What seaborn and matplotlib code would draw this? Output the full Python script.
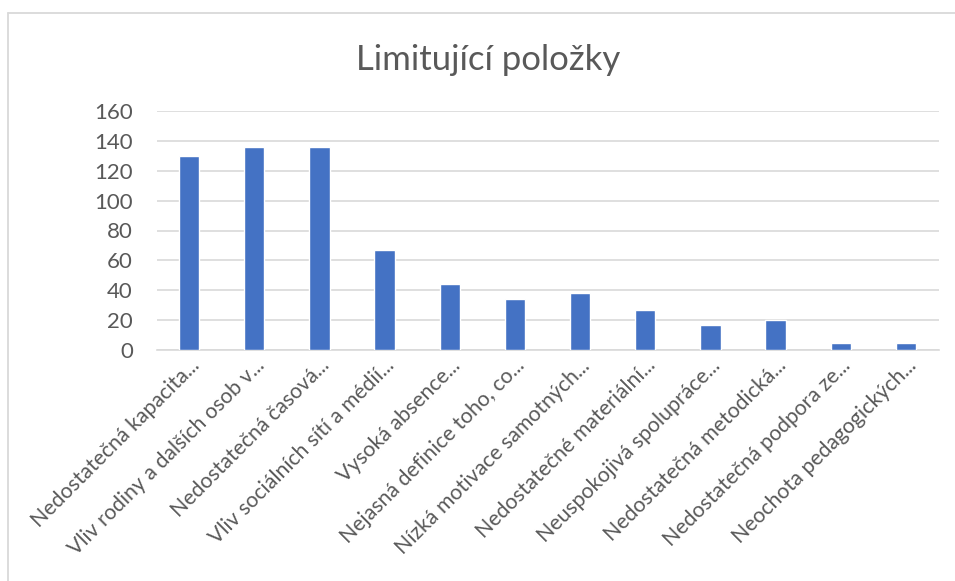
import matplotlib
matplotlib.use("Agg")
import matplotlib.pyplot as plt
import matplotlib.transforms as mtransforms
import seaborn as sns
import pandas as pd
from matplotlib.lines import Line2D

# data
labels = [
    "Nedostatečná kapacita...",
    "Vliv rodiny a dalších osob v...",
    "Nedostatečná časová...",
    "Vliv sociálních sítí a médií...",
    "Vysoká absence...",
    "Nejasná definice toho, co...",
    "Nízká motivace samotných...",
    "Nedostatečné materiální...",
    "Neuspokojivá spolupráce...",
    "Nedostatečná metodická...",
    "Nedostatečná podpora ze...",
    "Neochota pedagogických...",
]
values = [130, 136, 136, 67, 44, 34, 38, 27, 17, 20, 5, 5]
yticks = [0, 20, 40, 60, 80, 100, 120, 140, 160]

df = pd.DataFrame({"polozka": labels, "pocet": values})

sns.set_theme(style="white")
plt.rcParams["font.family"] = ["Lato", "DejaVu Sans"]
text_col = "#595959"

fig = plt.figure(figsize=(9.55, 5.81), dpi=100)
ax = fig.add_axes([156.5 / 955, 1 - 350 / 581, (938.5 - 156.5) / 955, (350 - 111) / 581])

sns.barplot(data=df, x="polozka", y="pocet", color="#4472C4", width=0.31,
            saturation=1, ax=ax, zorder=3)

ax.set_ylim(0, 160)
ax.set_yticks(yticks)
ax.set_xlim(-0.5, len(labels) - 0.5)
ax.yaxis.grid(True, color="#D9D9D9", linewidth=1.2, zorder=0)
ax.set_axisbelow(True)
for s in ["top", "right", "left"]:
    ax.spines[s].set_visible(False)
ax.spines["bottom"].set_color("#D9D9D9")
ax.spines["bottom"].set_linewidth(1.2)
ax.set_xlabel("")
ax.set_ylabel("")
ax.tick_params(axis="both", length=0, colors=text_col)
ax.tick_params(axis="y", pad=17, labelsize=16)
ax.set_xticks(range(len(labels)))
ax.set_xticklabels(labels, rotation=45, ha="right", rotation_mode="anchor",
                   fontsize=15.3, color=text_col)
# shift the rotated labels a bit to the right, like Excel does
shift = mtransforms.ScaledTranslation(12 / 100, 0, fig.dpi_scale_trans)
for t in ax.get_xticklabels():
    t.set_transform(t.get_transform() + shift)
ax.tick_params(axis="x", pad=4)

fig.text(0.5107, 1 - 60 / 581, "Limitující položky", ha="center", va="center",
         fontsize=25, color=text_col)

# chart frame (only top and left edges visible)
fig.add_artist(Line2D([8 / 955, 1], [1 - 13 / 581, 1 - 13 / 581],
                      transform=fig.transFigure, color="#D9D9D9", linewidth=1.3))
fig.add_artist(Line2D([8 / 955, 8 / 955], [0, 1 - 13 / 581],
                      transform=fig.transFigure, color="#D9D9D9", linewidth=1.3))

fig.savefig("out.png", dpi=100, facecolor="white")
